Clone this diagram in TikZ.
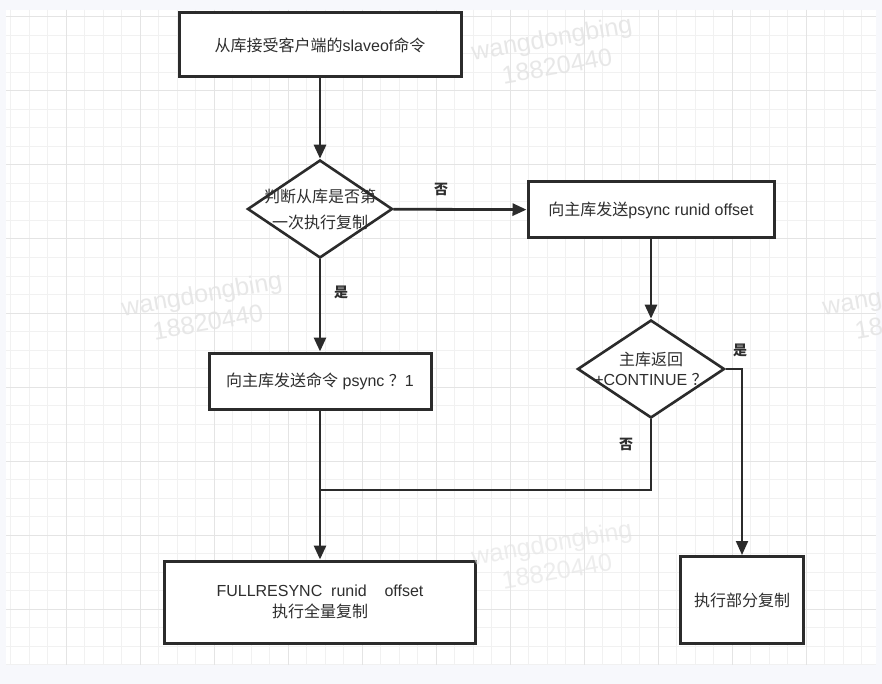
\documentclass[tikz,border=0pt]{standalone}
\usepackage{fontspec}
\setmainfont{Liberation Sans}
\newfontfamily\cjk{Noto Sans CJK SC}
\usetikzlibrary{shapes.geometric, arrows.meta}

\definecolor{pagebg}{HTML}{F7F8FC}
\definecolor{gridminor}{HTML}{F1F1F1}
\definecolor{gridmajor}{HTML}{E4E4E4}
\definecolor{linegray}{HTML}{2B2B2B}
\definecolor{textgray}{HTML}{2E2E2E}
\definecolor{markgray}{HTML}{E2E2E2}

\begin{document}
\begin{tikzpicture}[x=1pt, y=-1pt,
    box/.style={rectangle, draw=linegray, line width=3pt, fill=white, inner sep=0pt,
        text=textgray, align=center, font=\fontsize{16}{21}\selectfont},
    decision/.style={diamond, draw=linegray, line width=2.6pt, fill=white, inner sep=0pt},
    dtext/.style={text=textgray, align=center, inner sep=0pt},
    tip/.style={-{Triangle[length=14pt, width=12pt]}},
    flow/.style={draw=linegray, line width=2.8pt, tip},
    thinflow/.style={draw=linegray, line width=2pt},
    answer/.style={text=textgray, font=\cjk\bfseries\fontsize{14}{16}\selectfont},
    watermark/.style={text=markgray, opacity=0.8, font=\fontsize{25}{27}\selectfont, rotate=10}]

    % Page and grid
    \useasboundingbox (0,0) rectangle (882,684);
    \fill[pagebg] (0,0) rectangle (882,684);
    \fill[white] (6,10) rectangle (876,665);
    \foreach \i in {0,...,46}
        \draw[gridminor, line width=1pt] (10.5+18.5*\i, 10) -- (10.5+18.5*\i, 665);
    \foreach \j in {0,...,35}
        \draw[gridminor, line width=1pt] (6, 17+18.5*\j) -- (876, 17+18.5*\j);
    \foreach \i in {0,...,10}
        \draw[gridmajor, line width=1pt] (66+74*\i, 10) -- (66+74*\i, 665);
    \foreach \j in {0,...,8}
        \draw[gridmajor, line width=1pt] (6, 17+74*\j) -- (876, 17+74*\j);

    % Watermarks
    \node[watermark] (wm1a) at (552,40) {wangdongbing};
    \node[watermark] (wm1b) at (557,66) {18820440};
    \node[watermark] (wm2a) at (202,296) {wangdongbing};
    \node[watermark] (wm2b) at (208,322) {18820440};
    \node[watermark] (wm4a) at (903,295) {wangdongbing};
    \node[watermark] (wm4b) at (910,321) {18820440};

    % Boxes
    \node[box, minimum width=282pt, minimum height=64pt] (recv) at (320,45)
        {{\cjk 从库接受客户端的}slaveof{\cjk 命令}};
    \node[box, minimum width=246pt, minimum height=56pt] (partreq) at (651,210)
        {{\cjk 向主库发送}psync runid offset};
    \node[box, minimum width=222pt, minimum height=56pt] (fullreq) at (320,381)
        {{\cjk 向主库发送命令} psync {\cjk ？}1};
    \node[box, minimum width=311pt, minimum height=82pt] (fullsync) at (320,602)
        {FULLRESYNC\ \ runid\ \ \ \ offset\\{\cjk 执行全量复制}};
    \node[box, minimum width=123pt, minimum height=87pt] (partsync) at (742,600)
        {{\cjk 执行部分复制}};

    % Decisions
    \node[decision, minimum width=145pt, minimum height=98pt] (first) at (320,209) {};
    \node[dtext, font=\cjk\fontsize{16}{26}\selectfont] (firsttxt) at (first)
        {判断从库是否第\\一次执行复制};
    \node[decision, minimum width=147pt, minimum height=98pt] (cont) at (651,369) {};
    \node[dtext, font=\fontsize{16}{20}\selectfont] (conttxt) at (cont)
        {{\cjk 主库返回}\\+CONTINUE {\cjk ？}};

    % Connections
    \coordinate (join) at (320,490);
    \draw[flow] (recv) -- (first);
    \draw[flow] (first) -- (partreq);
    \draw[flow] (first) -- (fullreq);
    \draw[flow] (fullreq) -- (fullsync);
    \draw[flow] (partreq) -- (cont);
    \draw[thinflow, tip] (cont.east) -| (partsync.north);
    \draw[thinflow] (cont.south) |- (join);

    % Answers
    \node[answer] (no1) at (441,189) {否};
    \node[answer] (yes1) at (341,292) {是};
    \node[answer] (yes2) at (740,350) {是};
    \node[answer] (no2) at (626,444) {否};

    % Watermark over the lower box
    \node[watermark, opacity=0.6] (wm3a) at (552,545) {wangdongbing};
    \node[watermark, opacity=0.6] (wm3b) at (557,571) {18820440};
\end{tikzpicture}
\end{document}
